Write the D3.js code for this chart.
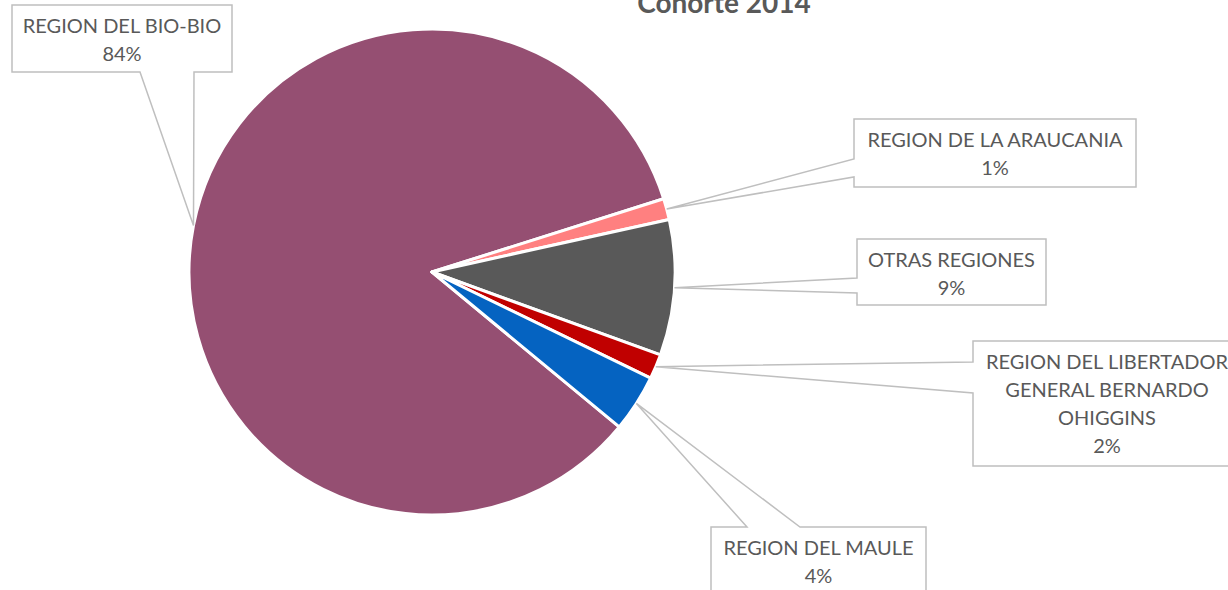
<!DOCTYPE html>
<html>
<head>
<meta charset="utf-8">
<script src="https://cdn.jsdelivr.net/npm/d3@7"></script>
<style>
  html, body { margin: 0; padding: 0; background: #fff; overflow: hidden; }
  svg { display: block; }
</style>
</head>
<body>
<div id="chart"></div>
<script>
/* Cohorte 2014 — students by region of origin */

var regions = ['REGION DEL BIO-BIO', 'REGION DE LA ARAUCANIA', 'OTRAS REGIONES',
  'REGION DEL LIBERTADOR GENERAL BERNARDO OHIGGINS', 'REGION DEL MAULE'];
var shares = [84.0, 1.4, 9.0, 1.65, 3.8];
var labelLines = [
  ['REGION DEL BIO-BIO'],
  ['REGION DE LA ARAUCANIA'],
  ['OTRAS REGIONES'],
  ['REGION DEL LIBERTADOR', 'GENERAL BERNARDO', 'OHIGGINS'],
  ['REGION DEL MAULE']
];
var sliceColors = ['#954f72', '#ff8080', '#595959', '#c00000', '#0563c1'];

(function drawPie() {
  var W = 1228, H = 590;
  var cx = 432, cy = 272, R = 243;
  var grey = '#595959', lineCol = '#bfbfbf';
  var font = 'Lato, "Open Sans", sans-serif';

  /* callout boxes: x0,y0,x1,y1, side of the pointer, and where it leaves the box */
  var callouts = [
    { x0: 12,  y0: 5,   x1: 232,  y1: 72,  side: 'bottom', a1: 140, a2: 194 },
    { x0: 854, y0: 119, x1: 1136, y1: 187, side: 'left',   a1: 159, a2: 177 },
    { x0: 857, y0: 239, x1: 1046, y1: 305, side: 'left',   a1: 278, a2: 293 },
    { x0: 973, y0: 341, x1: 1241, y1: 466, side: 'left',   a1: 362, a2: 393 },
    { x0: 711, y0: 527, x1: 926,  y1: 594, side: 'top',    a1: 747, a2: 800 }
  ];

  var svg = d3.select('#chart').append('svg')
    .attr('width', W).attr('height', H);

  var total = d3.sum(shares);
  var pct = d3.format('.0%');
  var start = 129.6 * Math.PI / 180;

  var pie = d3.pie().sort(null).value(function (d) { return d; })
    .startAngle(start).endAngle(start + 2 * Math.PI);
  var arcs = pie(shares);
  var arc = d3.arc().innerRadius(0).outerRadius(R);

  var g = svg.append('g').attr('transform', 'translate(' + cx + ',' + cy + ')');
  g.selectAll('path.slice')
    .data(arcs)
    .enter().append('path')
    .attr('class', 'slice')
    .attr('d', arc)
    .attr('fill', function (d, i) { return sliceColors[i]; })
    .attr('stroke', '#fff')
    .attr('stroke-width', 3)
    .attr('stroke-linejoin', 'round');

  /* ── callouts ── */
  arcs.forEach(function (a, i) {
    var c = callouts[i];
    var mid = (a.startAngle + a.endAngle) / 2;
    var tx = cx + R * Math.sin(mid), ty = cy - R * Math.cos(mid);

    var p = d3.path();
    p.moveTo(c.x0, c.y0);
    if (c.side === 'top') {
      p.lineTo(c.a1, c.y0); p.lineTo(tx, ty); p.lineTo(c.a2, c.y0);
    }
    p.lineTo(c.x1, c.y0);
    p.lineTo(c.x1, c.y1);
    if (c.side === 'bottom') {
      p.lineTo(c.a2, c.y1); p.lineTo(tx, ty); p.lineTo(c.a1, c.y1);
    }
    p.lineTo(c.x0, c.y1);
    if (c.side === 'left') {
      p.lineTo(c.x0, c.a2); p.lineTo(tx, ty); p.lineTo(c.x0, c.a1);
    }
    p.closePath();

    svg.append('path')
      .attr('d', p.toString())
      .attr('fill', '#fff')
      .attr('stroke', lineCol)
      .attr('stroke-width', 1.5);

    var lines = labelLines[i].concat([pct(shares[i] / total)]);
    var xm = (c.x0 + c.x1) / 2;
    lines.forEach(function (t, li) {
      svg.append('text')
        .attr('x', xm)
        .attr('y', c.y0 + 28 + li * 28)
        .attr('text-anchor', 'middle')
        .attr('font-family', font)
        .attr('font-size', 20)
        .attr('fill', grey)
        .text(t);
    });
  });

  /* ── title (partly above the frame) ── */
  svg.append('text')
    .attr('x', 724).attr('y', 13)
    .attr('text-anchor', 'middle')
    .attr('font-family', font)
    .attr('font-size', 28)
    .attr('font-weight', 'bold')
    .attr('fill', grey)
    .text('Cohorte 2014');
}());
</script>
</body>
</html>
